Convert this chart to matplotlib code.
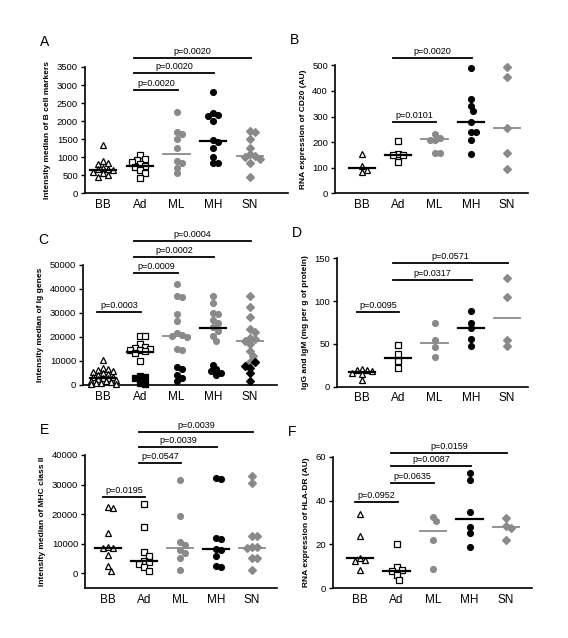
import matplotlib
matplotlib.use("Agg")
import matplotlib.pyplot as plt
import numpy as np

plt.rcParams['font.family'] = ['Liberation Sans', 'DejaVu Sans']

W, H = 568, 638
cats = ['BB', 'Ad', 'ML', 'MH', 'SN']

# ---- data ----
# A: intensity median of B cell markers
a_vals = [[1330, 900, 850, 820, 700, 680, 660, 640, 600, 560, 500, 450],
          [1050, 960, 920, 880, 800, 760, 720, 650, 560, 430],
          [2250, 1700, 1650, 1500, 1250, 900, 850, 700, 550],
          [2800, 2230, 2170, 2130, 2000, 1480, 1430, 1250, 1000, 850, 830],
          [1720, 1700, 1500, 1260, 1080, 1020, 1000, 950, 850, 450]]
a_med = [650, 760, 1100, 1450, 1040]
a_bars = [(1, 2, 2860, 'p=0.0020'), (1, 3, 3330, 'p=0.0020'), (1, 4, 3750, 'p=0.0020')]

# B: RNA expression of CD20
b_vals = [[155, 107, 93, 85],
          [205, 152, 150, 148, 123],
          [230, 215, 210, 208, 158, 158],
          [490, 370, 340, 322, 280, 238, 238, 210, 155],
          [495, 455, 254, 159, 95]]
b_med = [100, 150, 211, 280, 254]
b_bars = [(1, 2, 280, 'p=0.0101'), (1, 3, 528, 'p=0.0020')]

# C: intensity median of Ig genes (upper and lower sub-groups)
c_high = [[10300, 7000, 6500, 6200, 5800, 5500, 5000, 4500, 4000, 3500, 3200, 3000,
           2800, 2500, 2000, 1800, 1500, 1200, 1000, 800, 600, 400],
          [20500, 20500, 17000, 16000, 15500, 15000, 14700, 14500, 14000, 13500, 10000],
          [42000, 37000, 36500, 29500, 26500, 21500, 21000, 20500, 20000, 15000, 14500],
          [37000, 34000, 30000, 29500, 27000, 26000, 24000, 22500, 20500, 18500],
          [37000, 32500, 28500, 23500, 22000, 19500, 19000, 18500, 17000, 14000, 12000, 9500]]
c_low = [[],
         [3800, 3500, 3000, 1000, 500],
         [7500, 6500, 4000, 3000, 1500],
         [8500, 6500, 5800, 5000, 4000],
         [9500, 7800, 7200, 5000, 1500]]
c_med = [3000, 13700, 20300, 23800, 18200]
c_bars = [(0, 1, 30500, 'p=0.0003'), (1, 2, 46700, 'p=0.0009'),
          (1, 3, 53500, 'p=0.0002'), (1, 4, 60100, 'p=0.0004')]

# D: IgG and IgM (mg per g of protein)
d_vals = [[21, 20, 19, 18, 16, 15, 8],
          [49, 38, 30, 22],
          [75, 55, 46, 35],
          [88, 75, 69, 56, 48],
          [127, 105, 55, 47]]
d_med = [17.5, 33, 50.6, 69, 80]
d_bars = [(0, 1, 87.7, 'p=0.0095'), (1, 3, 124.7, 'p=0.0317'), (1, 4, 144, 'p=0.0571')]

# E: intensity median of MHC class II
e_vals = [[22500, 22000, 13500, 9000, 8500, 8500, 6000, 2300, 800],
          [23500, 15500, 7200, 5800, 4200, 3800, 3000, 2200, 800],
          [31500, 19500, 10500, 9500, 8000, 7000, 5000, 1000],
          [32200, 32000, 12000, 11500, 8200, 8000, 5800, 2500, 2200],
          [33000, 30500, 12500, 12500, 9000, 8800, 8500, 5000, 5000, 1000]]
e_med = [8500, 4300, 8700, 8100, 8700]
e_bars = [(0, 1, 25900, 'p=0.0195'), (1, 2, 37200, 'p=0.0547'),
          (1, 3, 42800, 'p=0.0039'), (1, 4, 47900, 'p=0.0039')]

# F: RNA expression of HLA-DR
f_vals = [[34, 24, 14, 13, 12.5, 8.3],
          [20, 9.5, 8.5, 7.8, 6, 4],
          [32.5, 30.5, 22, 8.7],
          [52.5, 49.5, 35, 28, 25, 18.7],
          [32, 28.5, 27.3, 22]]
f_med = [13.7, 7.9, 26.3, 31.4, 27.8]
f_bars = [(0, 1, 39.5, 'p=0.0952'), (1, 2, 47.8, 'p=0.0635'),
          (1, 3, 55.7, 'p=0.0087'), (1, 4, 61.8, 'p=0.0159')]

GRAY = '#8a8a8a'
# marker style per category: (marker, face, edge)
styles = [('^', 'white', 'black'), ('s', 'white', 'black'), ('o', GRAY, GRAY),
          ('o', 'black', 'black'), ('D', GRAY, GRAY)]
med_col = ['black', 'black', GRAY, 'black', GRAY]

fig = plt.figure(figsize=(W / 100, H / 100), dpi=100)


def swarm(vals, ppu, step=5.0, maxoff=13.0):
    # simple beeswarm: pixel offsets so that markers overlap as little as possible
    order = np.argsort(vals)[::-1]
    placed = []
    offs = np.zeros(len(vals))
    cands = [0.0]
    k = 1
    while k * step / 2 <= maxoff:
        cands += [k * step / 2, -k * step / 2]
        k += 1
    for i in order:
        y = vals[i] * ppu
        best, best_d = 0.0, -1
        for c in cands:
            dmin = min([np.hypot(c - px, y - py) for px, py in placed] + [99])
            if dmin >= step:
                best = c
                break
            if dmin > best_d:
                best, best_d = c, dmin
        placed.append((best, y))
        offs[i] = best
    return offs


def panel(px, ylim, yticks, ylabel, letter, high, low, meds, bars, x0, dx,
          lowstyle=None, highstyle=None):
    l, r, t, b = px
    ax = fig.add_axes([l / W, 1 - b / H, (r - l) / W, (b - t) / H])
    ax.set_ylim(*ylim)
    ax.set_xlim((l - x0) / dx, (r - x0) / dx)
    ppu = (b - t) / (ylim[1] - ylim[0])
    for i in range(5):
        vals = list(high[i])
        n_high = len(vals)
        if low is not None:
            vals += list(low[i])
        vals = np.array(vals, dtype=float)
        offs = swarm(vals, ppu) / dx
        m, fc, ec = styles[i]
        if highstyle is not None:
            m, fc, ec = highstyle[i]
        ms = 4.2 if m != 'D' else 3.6
        ax.plot(i + offs[:n_high], vals[:n_high], m, ms=ms, mfc=fc, mec=ec, mew=0.9,
                linestyle='none', clip_on=False, zorder=3)
        if low is not None and len(low[i]):
            m2, fc2, ec2 = lowstyle[i]
            ax.plot(i + offs[n_high:], vals[n_high:], m2, ms=ms, mfc=fc2, mec=ec2,
                    mew=0.9, linestyle='none', clip_on=False, zorder=3)
        ax.plot([i - 0.36, i + 0.36], [meds[i], meds[i]], color=med_col[i],
                lw=1.6 if med_col[i] == 'black' else 1.3, zorder=4)
    for s, e, y, txt in bars:
        ax.plot([s - 0.15, e + 0.03], [y, y], color='black', lw=1.3, clip_on=False)
        ax.text((s - 0.15 + e + 0.03) / 2, y + 2.0 / ppu, txt, ha='center', va='bottom',
                fontsize=6.5)
    ax.spines['top'].set_visible(False)
    ax.spines['right'].set_visible(False)
    ax.spines['left'].set_bounds(ylim[0], yticks[-1])
    for sp in ('left', 'bottom'):
        ax.spines[sp].set_linewidth(1.2)
    ax.set_yticks(yticks)
    ax.set_xticks(range(5))
    ax.set_xticklabels(cats, fontsize=8.5)
    ax.tick_params(axis='x', length=0, pad=4)
    ax.tick_params(axis='y', length=3, width=1, labelsize=6.8, pad=2)
    ax.set_ylabel(ylabel, fontsize=6, fontweight='bold', labelpad=4)
    fig.text((l - 45) / W, 1 - (t - 25) / H, letter, fontsize=10, ha='left',
             va='center')
    return ax


panel((85, 288, 67, 193.3), (0, 3500), [0, 500, 1000, 1500, 2000, 2500, 3000, 3500],
      'Intensity median of B cell markers', 'A', a_vals, None, a_med, a_bars, 103, 36.75)
panel((335, 528, 65.4, 193.3), (0, 500), [0, 100, 200, 300, 400, 500],
      'RNA expression of CD20 (AU)', 'B', b_vals, None, b_med, b_bars, 362, 36.25)
lowst = [None, ('s', 'black', 'black'), ('o', 'black', 'black'),
         ('o', 'black', 'black'), ('D', 'black', 'black')]
highst = [('^', 'white', 'black'), ('s', 'white', 'black'), ('o', GRAY, GRAY),
          ('o', GRAY, GRAY), ('D', GRAY, GRAY)]
panel((83, 277, 265, 385), (0, 50000), [0, 10000, 20000, 30000, 40000, 50000],
      'Intensity median of Ig genes', 'C', c_high, c_low, c_med, c_bars, 103, 36.75,
      lowstyle=lowst, highstyle=highst)
panel((337, 528, 258.3, 386.7), (0, 150), [0, 50, 100, 150],
      'IgG and IgM (mg per g of protein)', 'D', d_vals, None, d_med, d_bars, 362, 36.25)
panel((85, 277, 455, 588), (-5000, 40000), [0, 10000, 20000, 30000, 40000],
      'Intensity median of MHC class II', 'E', e_vals, None, e_med, e_bars, 108, 36)
panel((333, 532, 456.7, 588.3), (0, 60), [0, 20, 40, 60],
      'RNA expression of HLA-DR (AU)', 'F', f_vals, None, f_med, f_bars, 360, 36.5)

fig.savefig('out.png', dpi=100)
